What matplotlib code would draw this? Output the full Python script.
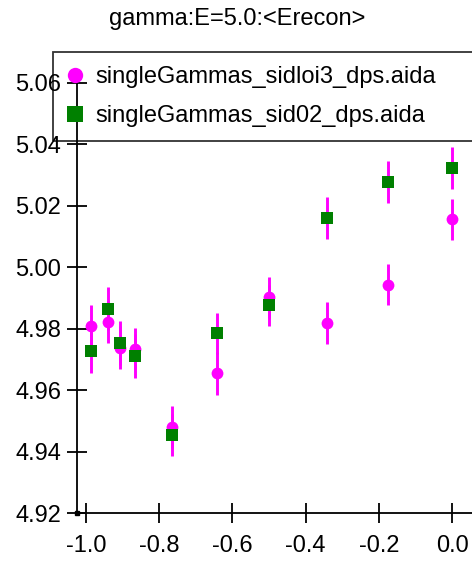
import matplotlib.pyplot as plt

plt.rcParams['font.family'] = ['Liberation Sans', 'DejaVu Sans']

# cos(theta) bins
cos_theta = [-0.985, -0.940, -0.906, -0.866, -0.766, -0.643, -0.500, -0.342, -0.174, 0.000]

# mean reconstructed energy, sidloi3
erecon_loi3 = [4.9807, 4.9820, 4.9738, 4.9735, 4.9480, 4.9654, 4.9901, 4.9818, 4.9943, 5.0155]
err_loi3 = [0.0071, 0.0068, 0.0071, 0.0068, 0.0068, 0.0071, 0.0068, 0.0067, 0.0068, 0.0067]

# mean reconstructed energy, sid02
erecon_sid02 = [4.9726, 4.9865, 4.9752, 4.9710, 4.9453, 4.9784, 4.9875, 5.0160, 5.0277, 5.0322]
err_sid02 = [0.0071, 0.0070, 0.0071, 0.0071, 0.0068, 0.0068, 0.0068, 0.0068, 0.0068, 0.0068]

x_ticks = [-1.0, -0.8, -0.6, -0.4, -0.2, 0.0]
y_ticks = [4.92, 4.94, 4.96, 4.98, 5.00, 5.02, 5.04, 5.06]

labels = ['singleGammas_sidloi3_dps.aida', 'singleGammas_sid02_dps.aida']
title = 'gamma:E=5.0:<Erecon>'

W, H = 472, 562
fig = plt.figure(figsize=(W / 100, H / 100), dpi=100)
ax = fig.add_axes([77 / W, 49 / H, (W - 77) / W, (513 - 81) / H])

e1 = ax.errorbar(cos_theta, erecon_loi3, yerr=err_loi3, fmt='o', color='#ff00ff',
                 ecolor='#ff00ff', elinewidth=2.1, capsize=0, ms=8.5, mew=0, zorder=3)
e2 = ax.errorbar(cos_theta, erecon_sid02, yerr=err_sid02, fmt='s', color='#008000',
                 ecolor='#ff00ff', elinewidth=2.1, capsize=0, ms=8.5, mew=0, zorder=4)

ax.set_xlim(-1.0246, 0.0546)
ax.set_ylim(4.92, 5.0605)
ax.set_xticks(x_ticks)
ax.set_yticks(y_ticks)
ax.xaxis.set_major_formatter(plt.FormatStrFormatter('%.1f'))
ax.yaxis.set_major_formatter(plt.FormatStrFormatter('%.2f'))

for s in ['top', 'right']:
    ax.spines[s].set_visible(False)
for s in ['left', 'bottom']:
    ax.spines[s].set_linewidth(1.3)
ax.tick_params(direction='inout', length=15, width=1.3, labelsize=17)
ax.tick_params(axis='x', pad=8)
ax.tick_params(axis='y', pad=4)

# little square at the axis origin
ax.plot([ax.get_xlim()[0]], [ax.get_ylim()[0]], 's', color='black', ms=3.5,
        clip_on=False, zorder=5)

fig.text(237 / W, 1 - 19 / H, title, ha='center', va='center', fontsize=17)

leg = fig.legend([e1[0], e2[0]], labels, loc='upper left',
                 bbox_to_anchor=(53 / W, 1 - 52 / H - 0.01, 440 / W, 0.01), mode='expand',
                 borderaxespad=0, fontsize=17, handlelength=0.65, handletextpad=0.56,
                 borderpad=0.59, labelspacing=0.72, markerscale=1.3,
                 fancybox=False, frameon=True)
leg.get_frame().set_edgecolor('black')
leg.get_frame().set_linewidth(1.3)
leg.get_frame().set_facecolor('none')

fig.savefig('out.png', dpi=100)
